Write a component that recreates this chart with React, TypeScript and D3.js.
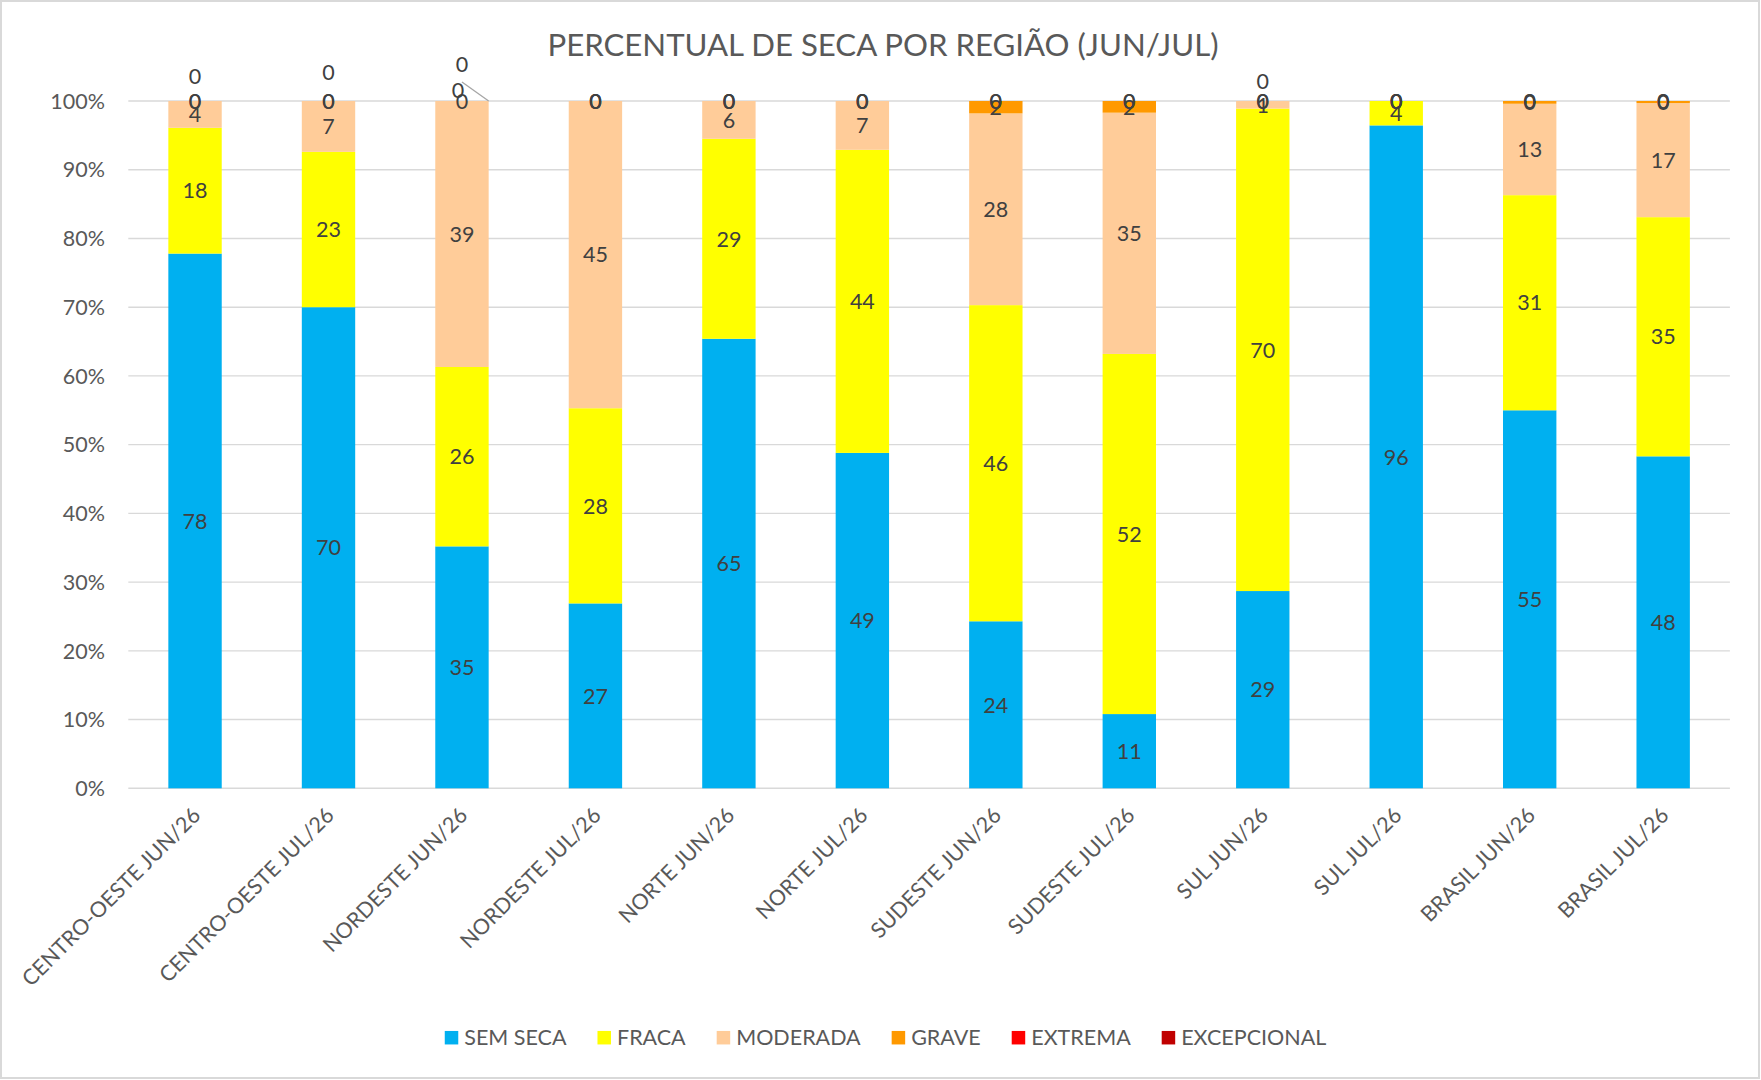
import React, { useEffect, useRef } from 'react';
import * as d3 from 'd3';

const categories = [
  'CENTRO-OESTE JUN/26', 'CENTRO-OESTE JUL/26', 'NORDESTE JUN/26', 'NORDESTE JUL/26',
  'NORTE JUN/26', 'NORTE JUL/26', 'SUDESTE JUN/26', 'SUDESTE JUL/26',
  'SUL JUN/26', 'SUL JUL/26', 'BRASIL JUN/26', 'BRASIL JUL/26',
];
const seriesNames = ['SEM SECA', 'FRACA', 'MODERADA', 'GRAVE', 'EXTREMA', 'EXCEPCIONAL'];
const semSeca = [77.8, 70.0, 35.2, 26.9, 65.4, 48.8, 24.3, 10.8, 28.7, 96.45, 55.0, 48.3];
const fraca = [18.3, 22.6, 26.1, 28.4, 29.1, 44.1, 46.0, 52.4, 70.2, 3.55, 31.3, 34.8];
const moderada = [3.9, 7.4, 38.7, 44.7, 5.5, 7.1, 27.9, 35.1, 1.1, 0, 13.3, 16.6];
const grave = [0, 0, 0, 0, 0, 0, 1.8, 1.7, 0, 0, 0.4, 0.3];
const extrema = [0, 0, 0, 0, 0, 0, 0, 0, 0, 0, 0, 0];
const excepcional = [0, 0, 0, 0, 0, 0, 0, 0, 0, 0, 0, 0];
const seriesValues = [semSeca, fraca, moderada, grave, extrema, excepcional];
const seriesColors = ['#00B0F0', '#FFFF00', '#FFCC99', '#FF9900', '#FF0000', '#C00000'];
const yTicks = [0, 0.1, 0.2, 0.3, 0.4, 0.5, 0.6, 0.7, 0.8, 0.9, 1];
const titleText = 'PERCENTUAL DE SECA POR REGIÃO (JUN/JUL)';

// manually dragged data labels (as in the original spreadsheet)
const labelNudges = [
  { category: 'CENTRO-OESTE JUN/26', series: 'EXCEPCIONAL', dx: 0, dy: -25, leader: false },
  { category: 'CENTRO-OESTE JUL/26', series: 'EXCEPCIONAL', dx: 0, dy: -29, leader: false },
  { category: 'NORDESTE JUN/26', series: 'EXTREMA', dx: -4, dy: -10.5, leader: true },
  { category: 'NORDESTE JUN/26', series: 'EXCEPCIONAL', dx: 0, dy: -37, leader: false },
  { category: 'SUL JUN/26', series: 'EXCEPCIONAL', dx: 0, dy: -20, leader: false },
];

const W = 1761;
const H = 1080;
const FONT = 'Lato, "Open Sans", sans-serif';

export default function App() {
  const ref = useRef<SVGSVGElement>(null);

  useEffect(() => {
    const svg = d3.select(ref.current);
    svg.selectAll('*').remove();

    svg.append('rect')
      .attr('x', 1).attr('y', 1).attr('width', W - 3).attr('height', H - 3)
      .attr('fill', '#ffffff').attr('stroke', '#d9d9d9').attr('stroke-width', 2);

    const plotLeft = 128.3, plotRight = 1729.9, plotTop = 101, plotBottom = 788.3;

    const x = d3.scaleBand<string>().domain(categories).range([plotLeft, plotRight])
      .paddingInner(0.6).paddingOuter(0.3);
    const y = d3.scaleLinear().domain([0, 1]).range([plotBottom, plotTop]);

    const rows = categories.map((c, i) => {
      const r: any = { category: c };
      seriesNames.forEach((s, j) => { r[s] = seriesValues[j][i]; });
      return r;
    });
    const stacked = d3.stack<any>().keys(seriesNames).offset(d3.stackOffsetExpand)(rows);

    // gridlines
    const grid = svg.append('g');
    grid.selectAll('line').data(yTicks).join('line')
      .attr('x1', plotLeft).attr('x2', plotRight)
      .attr('y1', d => y(d)).attr('y2', d => y(d))
      .attr('stroke', '#d9d9d9').attr('stroke-width', 1.4);

    // y tick labels
    svg.append('g').selectAll('text').data(yTicks).join('text')
      .attr('x', 105).attr('y', d => y(d)).attr('dy', '0.36em')
      .attr('text-anchor', 'end').attr('font-family', FONT).attr('font-size', 21.5)
      .attr('fill', '#595959').text(d => d3.format('.0%')(d));

    // bars
    const layers = svg.append('g').selectAll('g').data(stacked).join('g')
      .attr('fill', (_, i) => seriesColors[i]);
    layers.selectAll('rect').data(d => d).join('rect')
      .attr('x', d => x(d.data.category)!)
      .attr('width', x.bandwidth())
      .attr('y', d => y(d[1]))
      .attr('height', d => Math.max(0, y(d[0]) - y(d[1])));

    // data labels
    const labelG = svg.append('g');
    stacked.forEach((layer, j) => {
      layer.forEach((d, i) => {
        const cat = categories[i];
        const nudge = labelNudges.find(n => n.category === cat && n.series === seriesNames[j]);
        const cx = x(cat)! + x.bandwidth() / 2 + (nudge ? nudge.dx : 0);
        const cy = y((d[0] + d[1]) / 2) + (nudge ? nudge.dy : 0);
        if (nudge && nudge.leader) {
          labelG.append('line')
            .attr('x1', cx + 4).attr('y1', cy - 8.5)
            .attr('x2', x(cat)! + x.bandwidth()).attr('y2', y(1))
            .attr('stroke', '#a6a6a6').attr('stroke-width', 1.3);
        }
        labelG.append('text')
          .attr('x', cx).attr('y', cy).attr('dy', '0.36em')
          .attr('text-anchor', 'middle').attr('font-family', FONT).attr('font-size', 21.5)
          .attr('fill', '#404040')
          .text(String(Math.round(seriesValues[j][i])));
      });
    });

    // category labels
    svg.append('g').selectAll('g').data(categories).join('g')
      .attr('transform', d => `translate(${x(d)! + x.bandwidth() / 2 + 1.5},${plotBottom + 23}) rotate(-45)`)
      .append('text')
      .attr('text-anchor', 'end').attr('dy', '0.35em')
      .attr('font-family', FONT).attr('font-size', 21.5).attr('fill', '#595959')
      .text(d => d);

    // title
    svg.append('text')
      .attr('x', 883).attr('y', 56).attr('text-anchor', 'middle')
      .attr('font-family', FONT).attr('font-size', 31.2).attr('fill', '#595959')
      .text(titleText);

    // legend
    const legend = svg.append('g');
    const sq = 13.5, gapText = 6, gapItem = 31;
    const items = seriesNames.map((s, i) => {
      const g = legend.append('g');
      g.append('rect').attr('width', sq).attr('height', sq).attr('y', -sq / 2)
        .attr('fill', seriesColors[i]);
      const t = g.append('text').attr('x', sq + gapText).attr('dy', '0.36em')
        .attr('font-family', FONT).attr('font-size', 21.5).attr('fill', '#595959').text(s);
      const w = (t.node() as SVGTextElement).getComputedTextLength();
      return { g, w: sq + gapText + w };
    });
    const total = d3.sum(items, d => d.w) + gapItem * (items.length - 1);
    let cursor = 885.5 - total / 2;
    items.forEach(it => {
      it.g.attr('transform', `translate(${cursor},1037.7)`);
      cursor += it.w + gapItem;
    });
  }, []);

  return (
    <svg
      ref={ref}
      width={W}
      height={H}
      style={{ position: 'absolute', left: 0, top: 0, display: 'block' }}
    />
  );
}
